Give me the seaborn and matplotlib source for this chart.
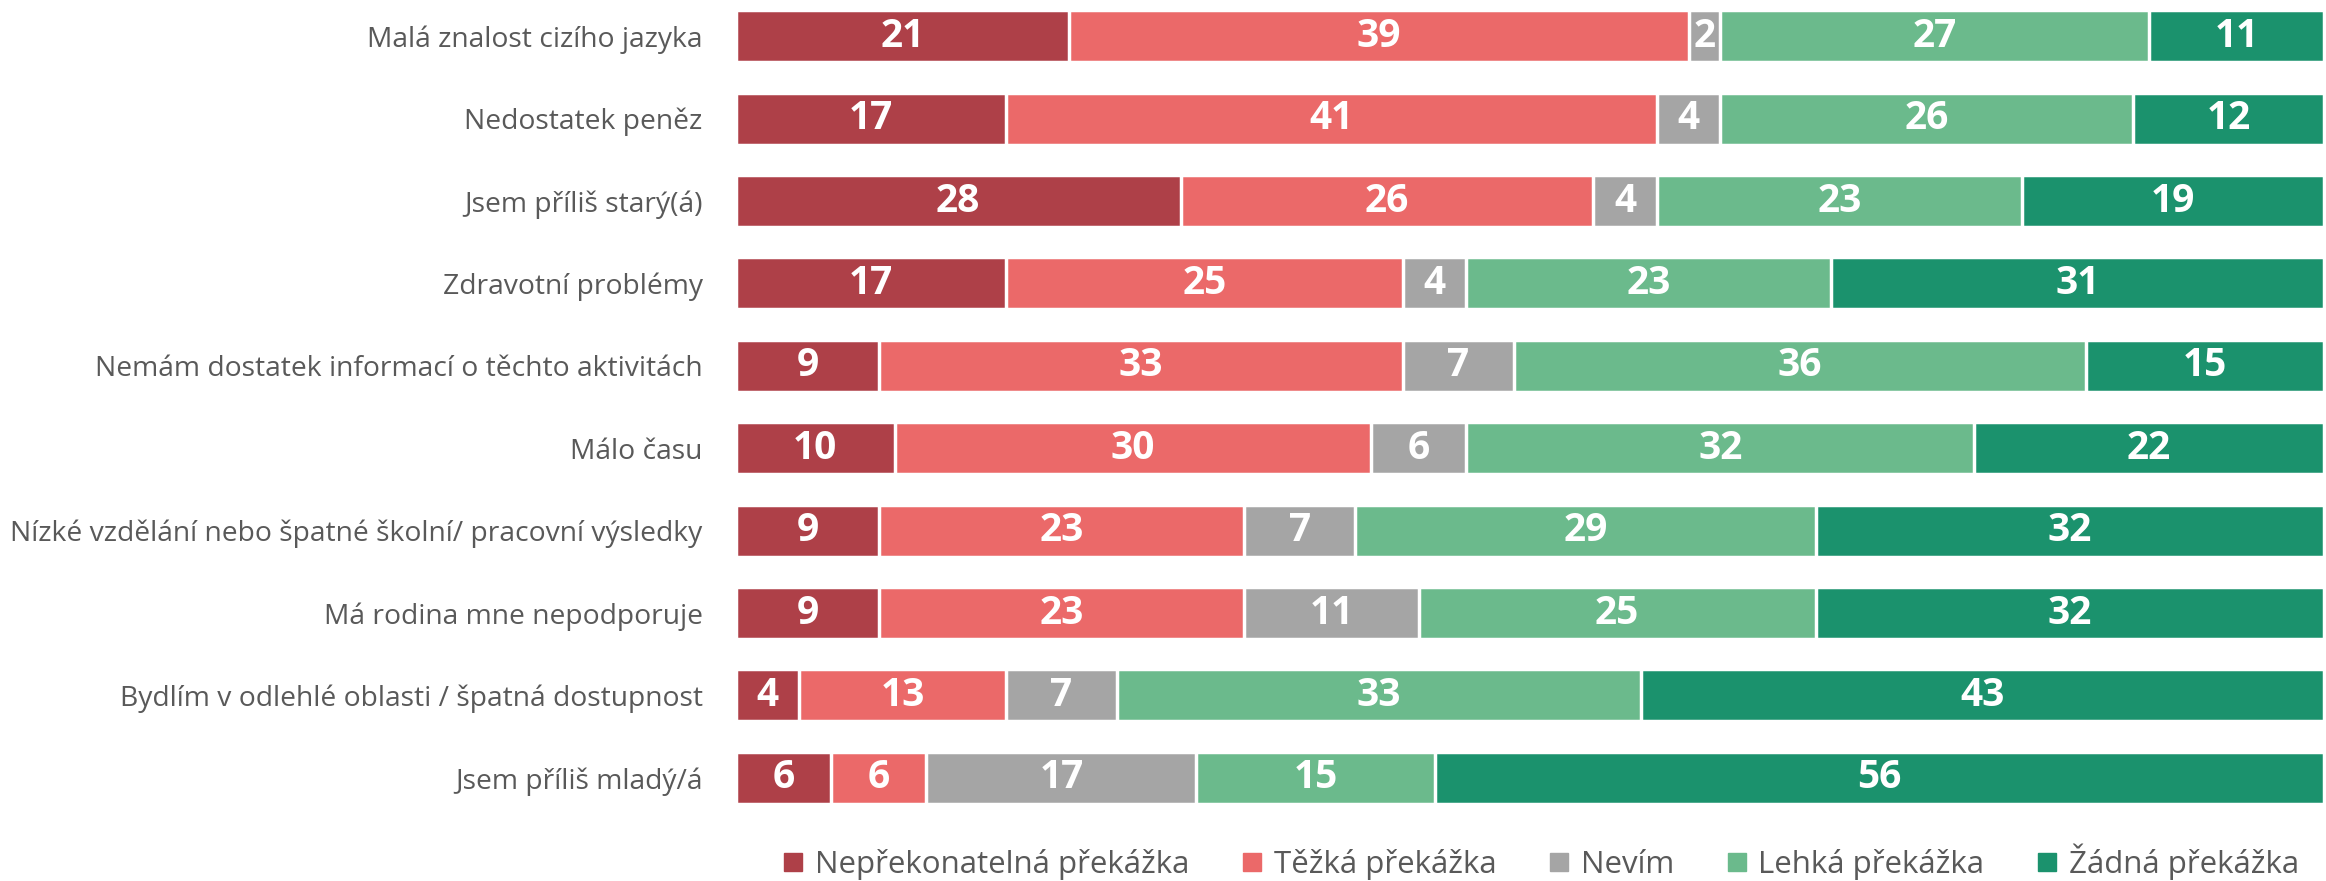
import numpy as np
import pandas as pd
import matplotlib
matplotlib.use("Agg")
import matplotlib.pyplot as plt
import seaborn as sns
from matplotlib.lines import Line2D

categories = [
    "Malá znalost cizího jazyka",
    "Nedostatek peněz",
    "Jsem příliš starý(á)",
    "Zdravotní problémy",
    "Nemám dostatek informací o těchto aktivitách",
    "Málo času",
    "Nízké vzdělání nebo špatné školní/ pracovní výsledky",
    "Má rodina mne nepodporuje",
    "Bydlím v odlehlé oblasti / špatná dostupnost",
    "Jsem příliš mladý/á",
]
series_names = ["Nepřekonatelná překážka", "Těžká překážka", "Nevím",
                "Lehká překážka", "Žádná překážka"]
neprekonatelna = [21, 17, 28, 17, 9, 10, 9, 9, 4, 6]
tezka = [39, 41, 26, 25, 33, 30, 23, 23, 13, 6]
nevim = [2, 4, 4, 4, 7, 6, 7, 11, 7, 17]
lehka = [27, 26, 23, 23, 36, 32, 29, 25, 33, 15]
zadna = [11, 12, 19, 31, 15, 22, 32, 32, 43, 56]
colors = ["#AE4048", "#EB6969", "#A5A5A5", "#6BBA8C", "#1B926D"]

values = [neprekonatelna, tezka, nevim, lehka, zadna]
df = pd.DataFrame({name: v for name, v in zip(series_names, values)})
df["cat"] = categories
cum = df[series_names].cumsum(axis=1)

sns.set_theme(style="white")
plt.rcParams["font.family"] = ["Open Sans", "DejaVu Sans"]

fig = plt.figure(figsize=(23.26, 8.81), dpi=100)
ax = fig.add_axes([0.3164, 0.075, 0.6826, 0.925])

# draw cumulative bars from the last series to the first (stacked look)
for i in range(len(series_names) - 1, -1, -1):
    sns.barplot(x=cum[series_names[i]], y=df["cat"], orient="h", color=colors[i],
                width=0.63, edgecolor="white", linewidth=2.5, saturation=1, ax=ax)

# value labels centred in each segment
for i, name in enumerate(series_names):
    for r in range(len(categories)):
        v = df[name].iloc[r]
        c = cum[name].iloc[r] - v / 2
        ax.text(c, r, f"{v}", ha="center", va="center", color="white",
                fontsize=28, fontweight="bold")

ax.set_xlim(0, 100)
ax.set_ylim(9.45, -0.44)
ax.set_xlabel("")
ax.set_ylabel("")
ax.set_xticks([])
ax.tick_params(axis="y", length=0, pad=24, labelsize=20.3, labelcolor="#595959")
for s in ax.spines.values():
    s.set_visible(False)

handles = [Line2D([0], [0], marker="s", linestyle="none", markersize=13,
                  markerfacecolor=c, markeredgecolor=c) for c in colors]
fig.legend(handles, series_names, loc="center", bbox_to_anchor=(0.662, 0.022),
           ncol=5, frameon=False, fontsize=22.5, labelcolor="#595959",
           handletextpad=0.3, columnspacing=1.6, handlelength=0.8)

fig.savefig("out.png", dpi=100)
